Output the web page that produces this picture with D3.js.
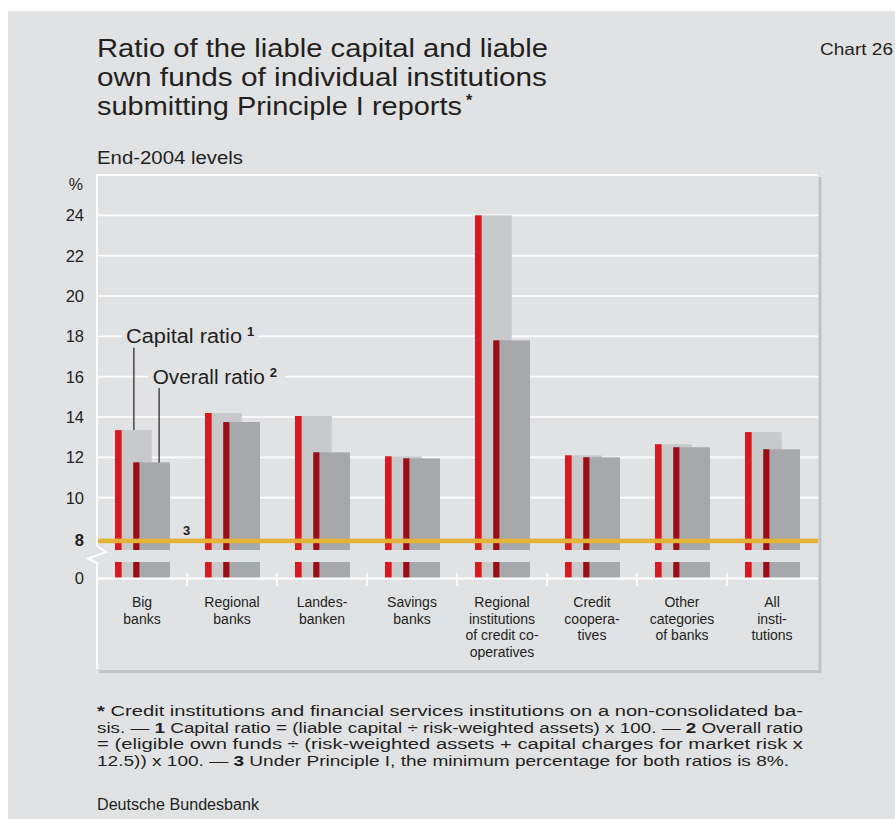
<!DOCTYPE html>
<html>
<head>
<meta charset="utf-8">
<script src="https://cdn.jsdelivr.net/npm/d3@7"></script>
<style>
  html, body { margin: 0; padding: 0; background: #ffffff; }
  svg { display: block; font-family: "Liberation Sans", Arial, sans-serif; }
</style>
</head>
<body>
<script>
// ---- Data: end-2004 ratios by category of bank (%) ----
const categories = [
  "Big banks", "Regional banks", "Landesbanken", "Savings banks",
  "Regional institutions of credit cooperatives", "Credit cooperatives",
  "Other categories of banks", "All institutions"
];
const categoryLabelLines = [
  ["Big", "banks"],
  ["Regional", "banks"],
  ["Landes-", "banken"],
  ["Savings", "banks"],
  ["Regional", "institutions", "of credit co-", "operatives"],
  ["Credit", "coopera-", "tives"],
  ["Other", "categories", "of banks"],
  ["All", "insti-", "tutions"]
];
const capitalRatio = [13.35, 14.2, 14.05, 12.05, 24.0, 12.1, 12.65, 13.25];
const overallRatio = [11.75, 13.75, 12.25, 11.95, 17.8, 12.0, 12.5, 12.4];
const yTickValues = [0, 8, 10, 12, 14, 16, 18, 20, 22, 24];
const gridValues = [10, 12, 14, 16, 18, 20, 22, 24];
const minimumRatio = 8;

const titleLines = [
  "Ratio of the liable capital and liable",
  "own funds of individual institutions",
  "submitting Principle I reports"
];
// footnote lines as segments: [text, bold]
const footnoteLines = [
  [["*", true], [" Credit institutions and financial services institutions on a non-consolidated ba-", false]],
  [["sis. — ", false], ["1", true], [" Capital ratio = (liable capital ÷ risk-weighted assets) x 100. — ", false], ["2", true], [" Overall ratio", false]],
  [["= (eligible own funds ÷ (risk-weighted assets + capital charges for market risk x", false]],
  [["12.5)) x 100. — ", false], ["3", true], [" Under Principle I, the minimum percentage for both ratios is 8%.", false]]
];

// ---- Styling ----
const W = 895, H = 819;
const bg = "#e1e2e4";
const ink = "#231f20";
const col = {
  capRed: "#d71920", capGrey: "#c8c9cb",
  ovRed: "#9c0c14", ovGrey: "#a7a8ab",
  minLine: "#e4b234", shadow: "#c2c3c5"
};

const svg = d3.select("body").append("svg")
  .attr("width", W).attr("height", H);

svg.append("rect")
  .attr("x", 8).attr("y", 11)
  .attr("width", W - 8).attr("height", H - 11)
  .attr("fill", bg);

// ---- Scales (broken axis: 0–8 compressed, 8–26 expanded) ----
const x = d3.scaleBand().domain(categories).range([97, 817]);
const bw = x.bandwidth();
const y = d3.scaleLinear().domain([0, 8, 26]).range([578, 538, 175]);
const plotLeft = 97, plotRight = 818, panelBottom = 669;

// panel shadow (right and bottom)
svg.append("rect").attr("x", plotRight + 0.5).attr("y", y(26) + 2)
  .attr("width", 3).attr("height", panelBottom + 4 - y(26) - 2).attr("fill", col.shadow);
svg.append("rect").attr("x", plotLeft + 2).attr("y", panelBottom + 1)
  .attr("width", plotRight + 3.5 - plotLeft - 2).attr("height", 3).attr("fill", col.shadow);

// gridlines
svg.append("g").selectAll("line").data(gridValues).join("line")
  .attr("x1", plotLeft).attr("x2", plotRight)
  .attr("y1", d => y(d)).attr("y2", d => y(d))
  .attr("stroke", "#ffffff").attr("stroke-width", 1.6);

// ---- Bars ----
const rows = categories.map((c, i) => ({ c, cap: capitalRatio[i], ov: overallRatio[i] }));
const bars = svg.append("g");
// capital ratio: red edge + light grey body
bars.selectAll(".capBody").data(rows).join("rect")
  .attr("x", d => x(d.c) + 0.2 * bw).attr("width", 0.408 * bw)
  .attr("y", d => y(d.cap)).attr("height", d => y(0) - y(d.cap))
  .attr("fill", col.capGrey);
bars.selectAll(".capEdge").data(rows).join("rect")
  .attr("x", d => x(d.c) + 0.2 * bw).attr("width", 0.074 * bw)
  .attr("y", d => y(d.cap)).attr("height", d => y(0) - y(d.cap))
  .attr("fill", col.capRed);
// overall ratio: dark red edge + dark grey body
bars.selectAll(".ovBody").data(rows).join("rect")
  .attr("x", d => x(d.c) + 0.403 * bw).attr("width", 0.408 * bw)
  .attr("y", d => y(d.ov)).attr("height", d => y(0) - y(d.ov))
  .attr("fill", col.ovGrey);
bars.selectAll(".ovEdge").data(rows).join("rect")
  .attr("x", d => x(d.c) + 0.403 * bw).attr("width", 0.068 * bw)
  .attr("y", d => y(d.ov)).attr("height", d => y(0) - y(d.ov))
  .attr("fill", col.ovRed);

// axis break gap
const breakHigh = 5.6, breakLow = 3.2;
svg.append("rect")
  .attr("x", plotLeft + 1).attr("y", y(breakHigh))
  .attr("width", plotRight - plotLeft - 1).attr("height", y(breakLow) - y(breakHigh))
  .attr("fill", bg);

// minimum ratio line
svg.append("rect")
  .attr("x", plotLeft + 1).attr("y", y(minimumRatio) + 0.6)
  .attr("width", plotRight - plotLeft - 1).attr("height", 4.6)
  .attr("fill", col.minLine);

// panel border and axis lines
const yb = y(breakHigh);
svg.append("path")
  .attr("d", `M${plotLeft},${panelBottom} V${y(breakLow) + 1} L${plotLeft - 9},${yb + 8.5} L${plotLeft + 9},${yb + 2} L${plotLeft},${yb - 4} V${y(26)} H${plotRight}`)
  .attr("fill", "none").attr("stroke", "#ffffff").attr("stroke-width", 2);
svg.append("line")
  .attr("x1", plotLeft).attr("x2", plotRight)
  .attr("y1", y(0) + 0.5).attr("y2", y(0) + 0.5)
  .attr("stroke", "#ffffff").attr("stroke-width", 2);
svg.append("g").selectAll("line").data(categories.slice(1)).join("line")
  .attr("x1", d => x(d)).attr("x2", d => x(d))
  .attr("y1", y(0) - 5).attr("y2", y(0) + 8)
  .attr("stroke", "#ffffff").attr("stroke-width", 1.6);

// y tick labels
svg.append("g").selectAll("text").data(yTickValues).join("text")
  .attr("x", 84).attr("y", d => y(d) + (d === minimumRatio ? 2.5 : 0))
  .attr("dy", "0.36em").attr("text-anchor", "end")
  .attr("font-size", 16.5).attr("fill", ink)
  .attr("font-weight", d => d === minimumRatio ? 700 : 400)
  .text(d => d);
svg.append("text").attr("x", 83).attr("y", 189.5).attr("text-anchor", "end")
  .attr("font-size", 16).attr("fill", ink).text("%");

// x category labels
const xl = svg.append("g");
categoryLabelLines.forEach((lines, i) => {
  const cx = x(categories[i]) + bw / 2;
  lines.forEach((t, j) => {
    xl.append("text").attr("x", cx).attr("y", 607 + j * 16.6)
      .attr("text-anchor", "middle").attr("font-size", 14)
      .attr("fill", ink).text(t);
  });
});

// footnote reference "3" on the minimum line
svg.append("text")
  .attr("x", x(categories[1]) - 0.5).attr("y", y(minimumRatio) - 3)
  .attr("text-anchor", "middle").attr("font-size", 13).attr("font-weight", 700)
  .attr("fill", ink).text("3");

// ---- Series annotations ----
function annotate(label, sup, tx, baseline, boxX, boxW, textW, lineX, valueTop) {
  svg.append("rect").attr("x", boxX).attr("y", baseline - 16.5)
    .attr("width", boxW).attr("height", 20).attr("fill", bg);
  svg.append("text").attr("x", tx).attr("y", baseline)
    .attr("font-size", 20).attr("fill", ink)
    .attr("textLength", textW).attr("lengthAdjust", "spacingAndGlyphs")
    .text(label);
  svg.append("text").attr("x", tx + textW + 5).attr("y", baseline - 7)
    .attr("font-size", 13).attr("font-weight", 700).attr("fill", ink).text(sup);
  svg.append("line").attr("x1", lineX).attr("x2", lineX)
    .attr("y1", baseline + 4.5).attr("y2", valueTop)
    .attr("stroke", ink).attr("stroke-width", 1.2);
}
const x0 = x(categories[0]);
annotate("Capital ratio", "1", 126, 343.3, 122, 136, 116, x0 + 0.41 * bw, y(capitalRatio[0]));
annotate("Overall ratio", "2", 152.7, 383.5, 148, 137, 112, x0 + 0.69 * bw, y(overallRatio[0]));

// ---- Title block ----
const titleWidths = [451, 450, 365];
titleLines.forEach((t, i) => {
  svg.append("text").attr("x", 97).attr("y", 57 + i * 29)
    .attr("font-size", 26).attr("fill", ink)
    .attr("textLength", titleWidths[i]).attr("lengthAdjust", "spacingAndGlyphs")
    .text(t);
});
svg.append("text").attr("x", 466).attr("y", 106).attr("font-size", 16)
  .attr("font-weight", 700).attr("fill", ink).text("*");
svg.append("text").attr("x", 820).attr("y", 55).attr("font-size", 17)
  .attr("fill", ink).attr("textLength", 73).attr("lengthAdjust", "spacingAndGlyphs")
  .text("Chart 26");
svg.append("text").attr("x", 97).attr("y", 164).attr("font-size", 17.5)
  .attr("fill", ink).attr("textLength", 146).attr("lengthAdjust", "spacingAndGlyphs")
  .text("End-2004 levels");

// ---- Footnote (each line fitted to the text block width) ----
const footWidths = [706, 706, 706, 692];
footnoteLines.forEach((segs, i) => {
  const t = svg.append("text").attr("x", 97).attr("y", 716 + i * 16.7)
    .attr("font-size", 15.5).attr("fill", ink)
    .attr("textLength", footWidths[i]).attr("lengthAdjust", "spacingAndGlyphs");
  segs.forEach(([s, b]) => {
    t.append("tspan").attr("font-weight", b ? 700 : 400).text(s);
  });
});
svg.append("text").attr("x", 97).attr("y", 810).attr("font-size", 16)
  .attr("fill", ink).attr("textLength", 162).attr("lengthAdjust", "spacingAndGlyphs")
  .text("Deutsche Bundesbank");
</script>
</body>
</html>
